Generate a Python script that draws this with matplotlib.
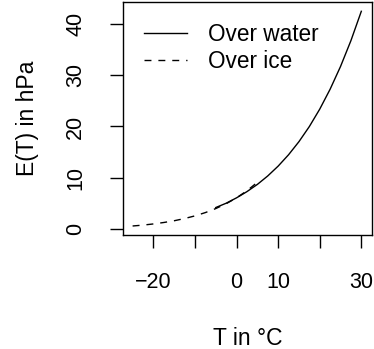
import numpy as np
import matplotlib
matplotlib.use('Agg')
import matplotlib.pyplot as plt

plt.rcParams['font.family'] = ['Liberation Sans', 'DejaVu Sans']

# saturation vapour pressure
t_water = [-5, -2.5, 0, 2.5, 5, 7.5, 10, 12.5, 15, 17.5, 20, 22.5, 25, 27.5, 30]
e_water = [4.22, 5.06, 6.11, 7.32, 8.72, 10.37, 12.28, 14.49, 17.04, 19.98,
           23.37, 27.25, 31.67, 36.70, 42.41]

t_ice = [-25, -22.5, -20, -17.5, -15, -12.5, -10, -7.5, -5, -2.5, 0, 2.5, 5]
e_ice = [0.63, 0.80, 1.03, 1.31, 1.65, 2.08, 2.60, 3.24, 4.02, 4.97, 6.11, 7.49, 9.13]

xticks = [-20, -10, 0, 10, 20, 30]
xlabels = ['\u221220', '', '0', '10', '', '30']
yticks = [0, 10, 20, 30, 40]

fig = plt.figure(figsize=(3.74, 3.49), dpi=100)
ax = fig.add_axes([0.329, 0.327, 0.666, 0.667])

ax.plot(t_water, e_water, color='black', lw=1.0, label='Over water')
ax.plot(t_ice, e_ice, color='black', lw=1.0, dashes=(5, 5), label='Over ice')

ax.set_xlim(-27.3, 32.6)
ax.set_ylim(-1.1, 44.2)
ax.set_xticks(xticks)
ax.set_xticklabels(xlabels)
ax.set_yticks(yticks)
ax.set_yticklabels([str(v) for v in yticks], rotation=90, va='center')
ax.tick_params(direction='out', length=9.5, width=1.0, labelsize=15.5)
ax.tick_params(axis='x', pad=17.5)
ax.tick_params(axis='y', pad=17)
for s in ax.spines.values():
    s.set_linewidth(1.0)

ax.set_xlabel('T in \u00b0C', fontsize=16.5, labelpad=24)
ax.set_ylabel('E(T) in hPa', fontsize=16.5, labelpad=19)

ax.legend(loc='upper left', frameon=False, fontsize=16.3, handlelength=1.9,
          handletextpad=0.93, borderaxespad=0, labelspacing=0.19,
          bbox_to_anchor=(0.048, 0.949))

fig.savefig('out.png', dpi=100)
